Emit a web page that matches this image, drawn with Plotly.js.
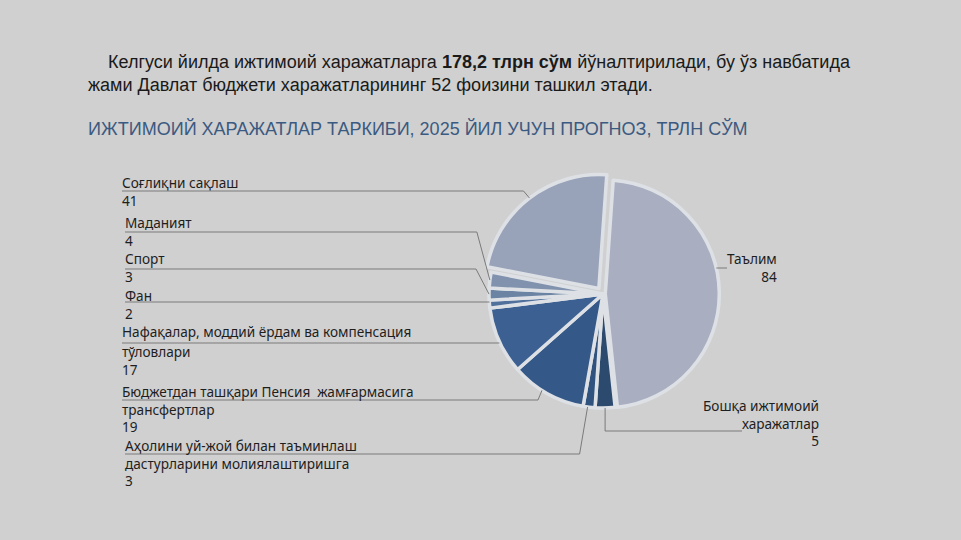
<!DOCTYPE html>
<html><head><meta charset="utf-8">
<script src="https://cdn.plot.ly/plotly-3.0.1.min.js"></script>
<style>html,body{margin:0;padding:0;background:#d0d0d0;overflow:hidden}</style>
</head><body><div id="chart" style="width:961px;height:540px"></div>
<script>
// ---- data ----
const categories = ['Таълим','Бошқа ижтимоий харажатлар','Аҳолини уй-жой билан таъминлаш дастурларини молиялаштиришга','Бюджетдан ташқари Пенсия  жамғармасига трансфертлар','Нафақалар, моддий ёрдам ва компенсация тўловлари','Фан','Спорт','Маданият','Соғлиқни сақлаш'];
const values = [84, 5, 3, 19, 17, 2, 3, 4, 41];
const labelLines = [
  ['Таълим'],
  ['Бошқа ижтимоий','харажатлар'],
  ['Аҳолини уй-жой билан таъминлаш','дастурларини молиялаштиришга'],
  ['Бюджетдан ташқари Пенсия  жамғармасига','трансфертлар'],
  ['Нафақалар, моддий ёрдам ва компенсация','тўловлари'],
  ['Фан'],['Спорт'],['Маданият'],['Соғлиқни сақлаш']
];
const titleText = 'ИЖТИМОИЙ ХАРАЖАТЛАР ТАРКИБИ, 2025 ЙИЛ УЧУН ПРОГНОЗ, ТРЛН СЎМ';
const introLine1 = 'Келгуси йилда ижтимоий харажатларга <b>178,2 тлрн сўм</b> йўналтирилади, бу ўз навбатида';
const introLine2 = 'жами Давлат бюджети харажатларининг 52 фоизини ташкил этади.';

// ---- styles / layout (pixels) ----
const W = 961, H = 540;
const colors = ['#a9aec1','#2c4a6e','#2f527e','#345887','#3b6091','#51719c','#6b84a3','#8092ad','#98a2b8'];
const pulls = [0.02,0,0,0,0,0,0,0,0.06];
const CX = 603, CY = 294, R = 114, ROT = 4;
// label placement: side, text x, blocks (split index of lines -> block centre y), leader y, knee offset, line end x (right side), leader fraction along slice
const lab = [
  {side:'r', x:778, blocks:[[0,267]], ly:268, kdx:0, lx:727, f:0.43},
  {side:'r', x:820, blocks:[[0,422.7]], ly:431, kdx:0, lx:742, f:0.5, vert:true},
  {side:'l', x:124, blocks:[[0,463]], ly:454, kdx:-8, f:0.62},
  {side:'l', x:121, blocks:[[0,409.3]], ly:400, kdx:-4, f:0.58},
  {side:'l', x:121, blocks:[[0,331.5],[1,360]], ly:343, kdx:0, f:0.49},
  {side:'l', x:124, blocks:[[0,304.5]], ly:302, kdx:0, f:0.5},
  {side:'l', x:124, blocks:[[0,268]], ly:269, kdx:-13, f:0.5},
  {side:'l', x:124, blocks:[[0,231.5]], ly:232, kdx:-13, f:0.5},
  {side:'l', x:121, blocks:[[0,191.5]], ly:191, kdx:-6, f:0.5}
];
const px = x => x / W, py = y => 1 - y / H;
const LABEL_FONT = {family:'Noto Sans, Open Sans, sans-serif', size:13.6, color:'#1e1e1e'};
const LINE = {color:'#7a7a7a', width:1};

const maxPull = Math.max(...pulls);
const half = R * (1 + maxPull);

const annotations = [];
const shapes = [];
const total = values.reduce((a,b)=>a+b,0);
let cum = 0;
values.forEach((v,i)=>{
  const a0 = ROT + cum/total*360, a1 = ROT + (cum+v)/total*360;
  cum += v;
  const L = lab[i];
  const a = (a0 + (a1-a0)*L.f) * Math.PI/180, am = (a0+a1)/2*Math.PI/180;
  const pr = R*pulls[i];
  const ex = CX + R*Math.sin(a) + pr*Math.sin(am);
  const ey = CY - R*Math.cos(a) - pr*Math.cos(am);
  const texts = labelLines[i].concat([String(values[i])]);
  L.blocks.forEach((b,k)=>{
    const end = (k+1 < L.blocks.length) ? L.blocks[k+1][0] : texts.length;
    annotations.push({xref:'paper', yref:'paper', x:px(L.x), y:py(b[1]), text:texts.slice(b[0], end).join('<br>'), showarrow:false,
      xanchor: L.side==='l'?'left':'right', align: L.side==='l'?'left':'right', yanchor:'middle', borderpad:0, font:LABEL_FONT});
  });
  let kx = ex + L.kdx;
  if (L.side==='l') {
    if (Math.abs(ey-L.ly) < 5) { kx = ex; }
    shapes.push({type:'line', xref:'paper', yref:'paper', x0:px(L.x+1), y0:py(L.ly), x1:px(kx), y1:py(L.ly), line:LINE});
    if (kx !== ex) shapes.push({type:'line', xref:'paper', yref:'paper', x0:px(kx), y0:py(L.ly), x1:px(ex), y1:py(ey), line:LINE});
  } else {
    if (L.vert) shapes.push({type:'line', xref:'paper', yref:'paper', x0:px(ex), y0:py(ey), x1:px(ex), y1:py(L.ly), line:LINE});
    shapes.push({type:'line', xref:'paper', yref:'paper', x0:px(ex), y0:py(L.ly), x1:px(L.lx), y1:py(L.ly), line:LINE});
  }
});

// intro text & title
const TEXT_FAMILY = 'Liberation Sans, Arial, sans-serif';
annotations.push({xref:'paper', yref:'paper', x:px(106), y:py(62), xanchor:'left', yanchor:'middle', showarrow:false,
  text:introLine1, font:{family:TEXT_FAMILY, size:18, color:'#1a1a1a'}});
annotations.push({xref:'paper', yref:'paper', x:px(86), y:py(85), xanchor:'left', yanchor:'middle', showarrow:false,
  text:introLine2, font:{family:TEXT_FAMILY, size:18, color:'#1a1a1a'}});
annotations.push({xref:'paper', yref:'paper', x:px(86), y:py(128), xanchor:'left', yanchor:'middle', showarrow:false,
  text:titleText, font:{family:TEXT_FAMILY, size:18, color:'#3b5a81'}});

const trace = {
  type:'pie', labels:categories, values:values, sort:false, direction:'clockwise', rotation:ROT,
  pull:pulls, textinfo:'none', hoverinfo:'label+value',
  marker:{colors:colors, line:{color:'#dde1e6', width:3.5}},
  domain:{x:[px(CX-half), px(CX+half)], y:[py(CY+half), py(CY-half)]},
  showlegend:false
};

Plotly.newPlot('chart', [trace], {
  width:W, height:H, margin:{l:0,r:0,t:0,b:0},
  paper_bgcolor:'#d0d0d0', plot_bgcolor:'#d0d0d0',
  showlegend:false, annotations:annotations, shapes:shapes
}, {displayModeBar:false, staticPlot:true});
</script></body></html>
